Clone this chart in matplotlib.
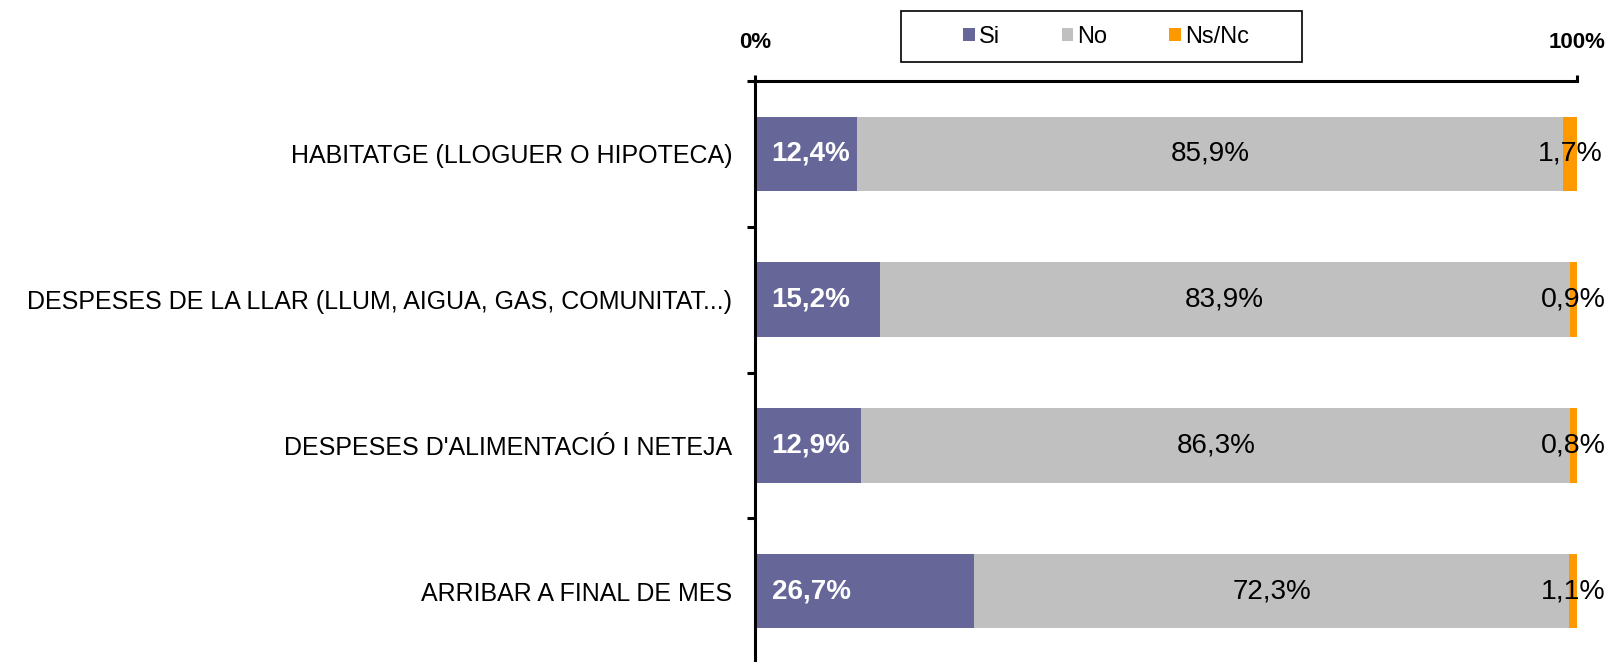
import matplotlib.pyplot as plt
from matplotlib.patches import Rectangle

categories = ['HABITATGE (LLOGUER O HIPOTECA)',
              'DESPESES DE LA LLAR (LLUM, AIGUA, GAS, COMUNITAT...)',
              "DESPESES D'ALIMENTACIÓ I NETEJA",
              'ARRIBAR A FINAL DE MES']
si = [12.4, 15.2, 12.9, 26.7]
no = [85.9, 83.9, 86.3, 72.3]
nsnc = [1.7, 0.9, 0.8, 1.1]
series_names = ['Si', 'No', 'Ns/Nc']
colors = ['#666699', '#C0C0C0', '#FF9900']


def pct(v):
    return f'{v:.1f}'.replace('.', ',') + '%'


def main():
    plt.rcParams['font.family'] = ['Liberation Sans', 'DejaVu Sans']
    fig = plt.figure(figsize=(16.08, 6.62), dpi=100)
    ax = fig.add_axes([0.4695, -0.003, 0.5112, 0.8806])

    y = list(range(len(categories)))
    left_no = si
    left_ns = [a + b for a, b in zip(si, no)]
    b_si = ax.barh(y, si, height=0.51, color=colors[0], label=series_names[0])
    b_no = ax.barh(y, no, left=left_no, height=0.51, color=colors[1], label=series_names[1])
    b_ns = ax.barh(y, nsnc, left=left_ns, height=0.51, color=colors[2], label=series_names[2])

    for i in y:
        ax.annotate(pct(si[i]), (0, i), xytext=(12, 0), textcoords='offset points',
                    ha='left', va='center', color='white', fontweight='bold', fontsize=20)
        ax.text(left_no[i] + no[i] / 2, i, pct(no[i]), ha='center', va='center',
                color='black', fontsize=20)
        ax.text(left_ns[i] + nsnc[i] / 2, i, pct(nsnc[i]), ha='center', va='center',
                color='black', fontsize=20.5)

    ax.set_xlim(0, 100)
    ax.set_ylim(len(categories) - 0.5, -0.5)

    # percent scale on top, only the two ends
    ax.xaxis.tick_top()
    ax.set_xticks([0, 100])
    ax.set_xticklabels(['0%', '100%'], fontweight='bold')
    ax.tick_params(axis='x', length=4.3, width=2.2, pad=16, labelsize=16)

    ax.set_yticks(y)
    ax.set_yticklabels(categories)
    ax.tick_params(axis='y', which='major', length=0, pad=16.5, labelsize=18)
    ax.set_yticks([i - 0.5 for i in range(len(categories) + 1)], minor=True)
    ax.tick_params(axis='y', which='minor', length=5.8, width=2.2, direction='out')

    for s in ['right', 'bottom']:
        ax.spines[s].set_visible(False)
    for s in ['top', 'left']:
        ax.spines[s].set_linewidth(2.2)

    fig.legend(handles=[b_si, b_no, b_ns], labels=series_names, loc='center',
               bbox_to_anchor=(1106 / 1608, 1 - 37 / 662), ncol=3, frameon=False,
               fontsize=17, handlelength=0.5, handleheight=0.5,
               handletextpad=0.17, columnspacing=2.6)
    fig.patches.append(Rectangle((901 / 1608, 1 - 62 / 662), 401 / 1608, 51 / 662,
                                 transform=fig.transFigure, fill=False,
                                 edgecolor='black', linewidth=1.2))

    fig.savefig('out.png', dpi=100)


if __name__ == '__main__':
    main()
